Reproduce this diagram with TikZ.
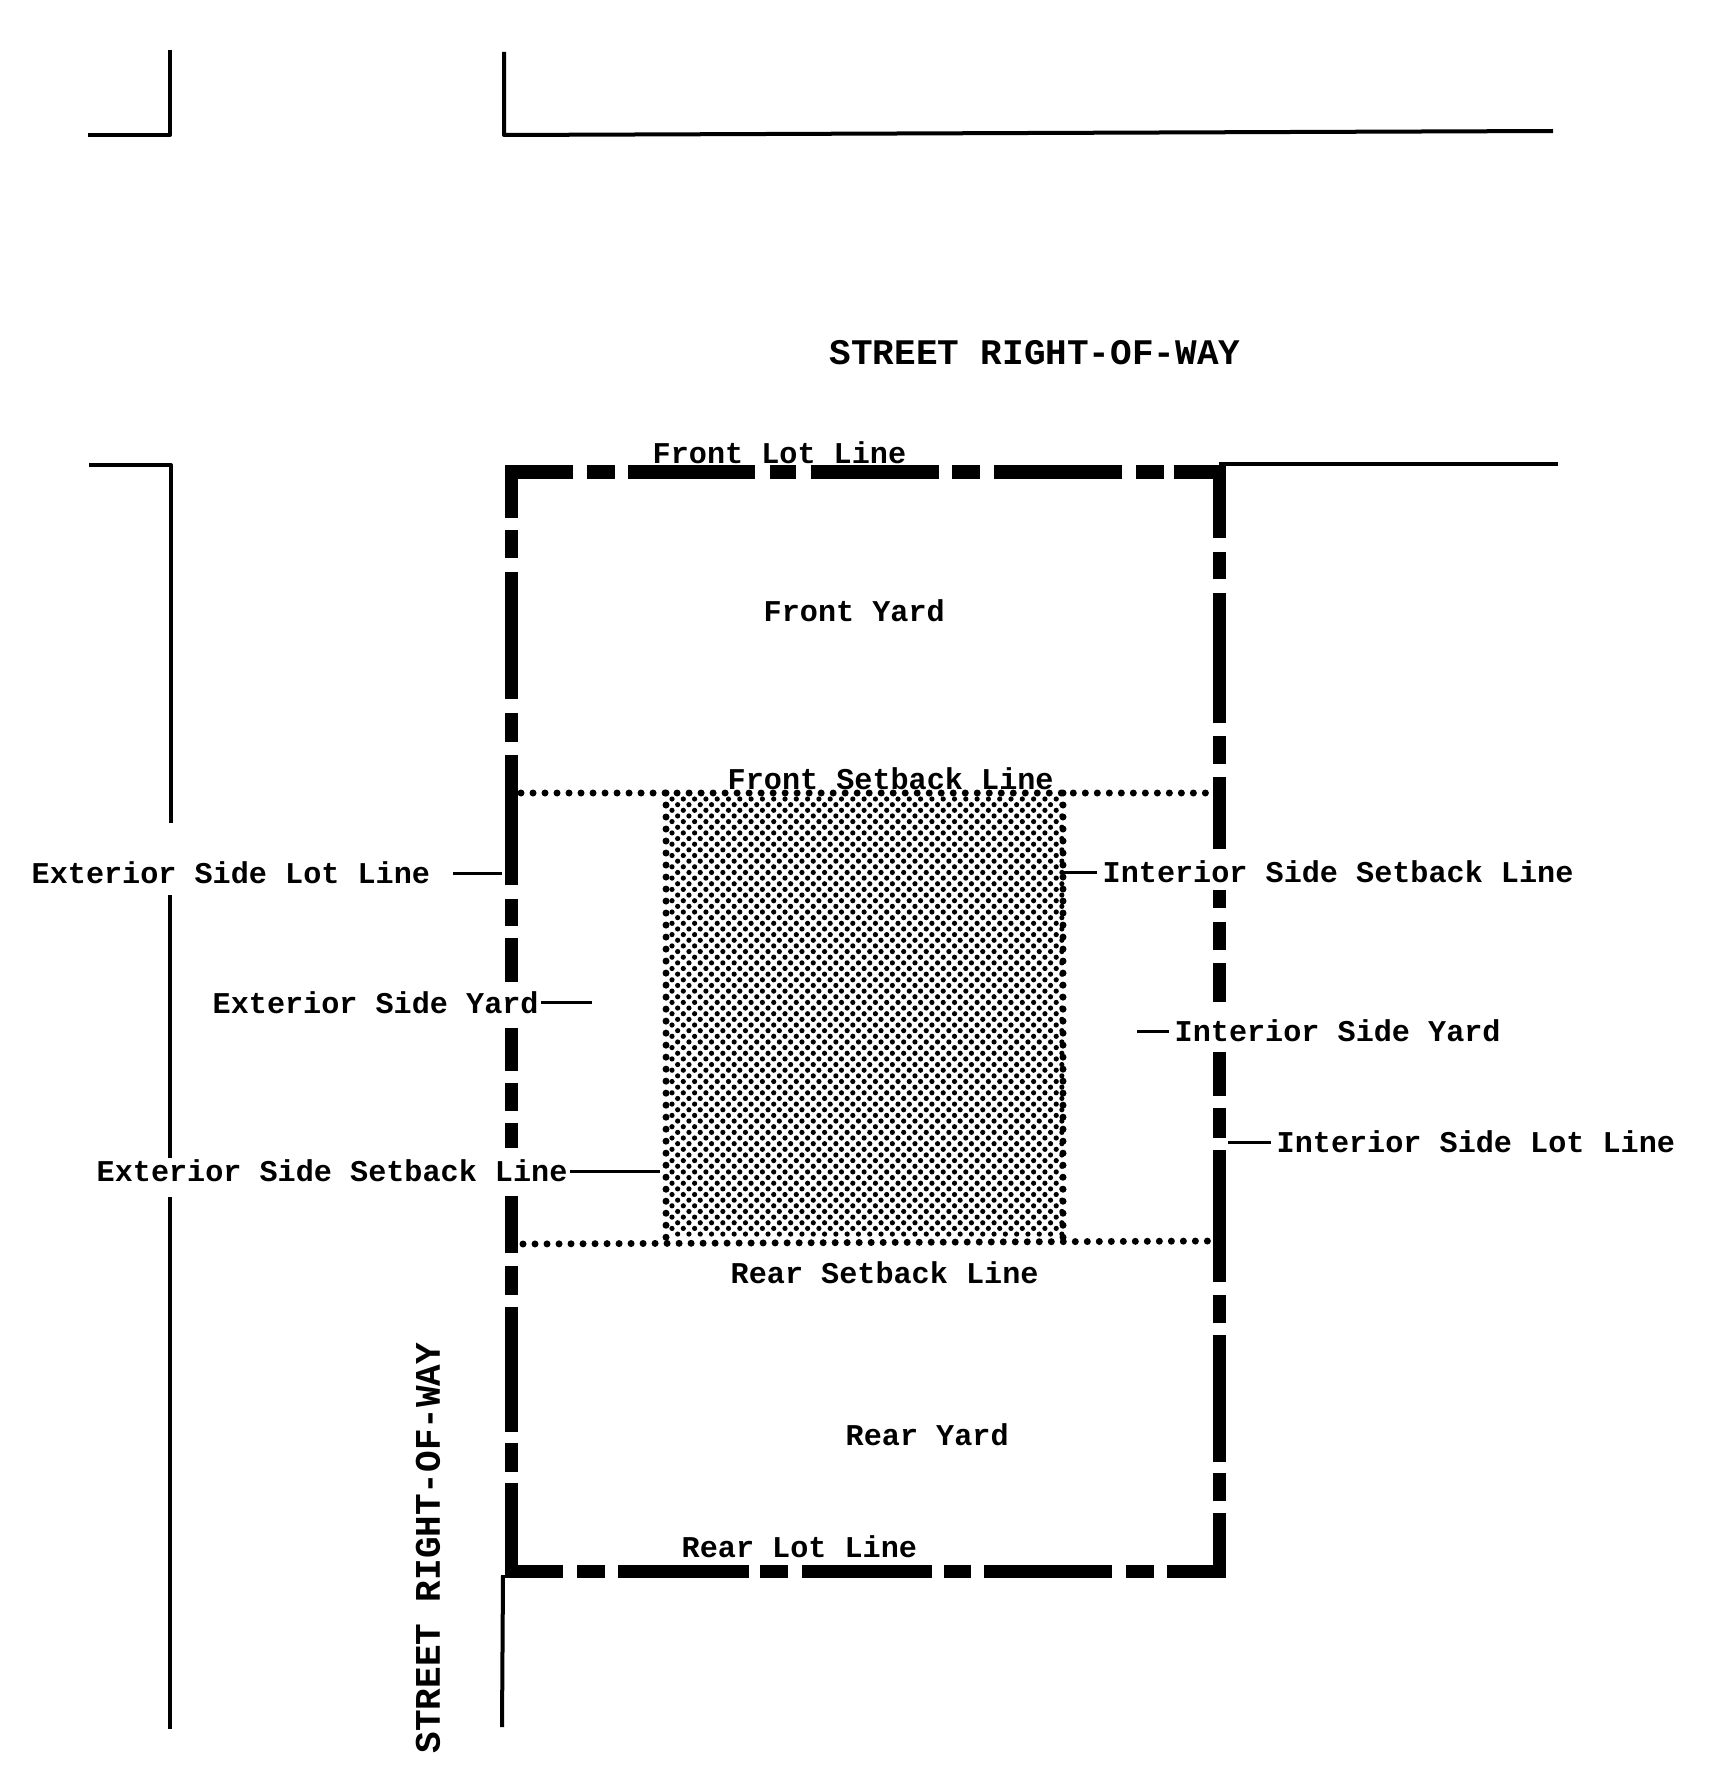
\documentclass[tikz,border=0pt]{standalone}
\usepackage{fontspec}
\setmonofont{Liberation Mono}
\usepackage{tikz}
\tikzset{
  lotline/.style={line width=0.13cm},
  streetline/.style={line width=0.04cm, line join=round},
  leaderline/.style={line width=0.03cm},
  setbackline/.style={line width=0.07cm, line cap=round, dash pattern=on 0pt off 0.12cm},
  lotlabel/.style={inner sep=0pt, anchor=west, font=\ttfamily\bfseries\fontsize{8.58}{10}\selectfont},
  streetlabel/.style={inner sep=0pt, font=\ttfamily\bfseries\fontsize{10.24}{12}\selectfont},
}

\begin{document}
\begin{tikzpicture}[x=0.01cm, y=-0.01cm]
\useasboundingbox (0,0) rectangle (1710,1788);
%%%%% Streets %%%%%
\draw[streetline] (88,135)--(170,135)--(170,50);
\draw[streetline] (504,52)--(504,135)--(1553,131);
\draw[streetline] (89,465)--(171,465)--(171,823);
\draw[streetline] (170,895)--(170,1158);
\draw[streetline] (170,1197)--(170,1729);
\draw[streetline] (1219,464)--(1558,464);
\draw[streetline] (503,1575)--(502,1727);
%%%%% Building %%%%%
\fill \foreach \x in {672,683.3,...,1060} {\foreach \y in {799,810.3,...,1238} {
  (\x,\y) circle (0.026cm) (\x+5.65,\y+5.65) circle (0.026cm)}};
\draw[setbackline] (666,793)--(666,1243);
\draw[setbackline] (1063,793)--(1063,1243);
%%%%% Setback lines %%%%%
\draw[setbackline] (521,793)--(1210,793);
\draw[setbackline] (523,1244)--(1210,1241);
%%%%% Lot lines %%%%%
\foreach \a/\b in {505/573,587/615,628/755,770/796,811/939,952/980,994/1122,1136/1164,1174/1226}{
\draw[lotline] (\a,472)--(\b,472);
}
\foreach \a/\b in {505/563,577/605,618/749,760/788,802/932,944/971,984/1112,1126/1154,1167/1226}{
\draw[lotline] (\a,1571)--(\b,1571);
}
\foreach \a/\b in {466/518,530/558,572/699,713/742,755/885,899/926,938/982,1028/1071,1083/1111,1123/1148,1196/1253,1266/1295,1307/1432,1443/1472,1483/1578}{
\draw[lotline] (511,\a)--(511,\b);
}
\foreach \a/\b in {466/538,552/579,593/723,736/764,777/849,890/908,922/950,963/1002,1052/1096,1108/1138,1150/1282,1295/1323,1335/1462,1473/1501,1513/1578}{
\draw[lotline] (1219,\a)--(1219,\b);
}
%%%%% Labels %%%%%
\node[streetlabel] (streettop) at (1035,353) {STREET RIGHT-OF-WAY};
\node[streetlabel, rotate=90] (streetside) at (428,1548) {STREET RIGHT-OF-WAY};
\node[lotlabel] (frontlot) at (652,453) {Front Lot Line};
\node[lotlabel] (frontyard) at (763,611) {Front Yard};
\node[lotlabel] (frontset) at (727,779) {Front Setback Line};
\node[lotlabel] (extlot) at (31,873) {Exterior Side Lot Line};
\node[lotlabel] (intset) at (1102,872) {Interior Side Setback Line};
\node[lotlabel] (extyard) at (212,1002.5) {Exterior Side Yard};
\node[lotlabel] (intyard) at (1174,1031) {Interior Side Yard};
\node[lotlabel] (intlot) at (1276,1142) {Interior Side Lot Line};
\node[lotlabel] (extset) at (96,1171) {Exterior Side Setback Line};
\node[lotlabel] (rearset) at (730,1273) {Rear Setback Line};
\node[lotlabel] (rearyard) at (845,1435) {Rear Yard};
\node[lotlabel] (rearlot) at (681,1547) {Rear Lot Line};
%%%%% Leaders %%%%%
\coordinate (extlottip) at (502,873);
\coordinate (extyardtip) at (592,1002.5);
\coordinate (extsettip) at (660,1171);
\coordinate (intsettip) at (1060,872);
\coordinate (intyardtip) at (1137,1031);
\coordinate (intlottip) at (1228,1142);
\draw[leaderline, shorten <=0.22cm] (extlot.east)--(extlottip);
\draw[leaderline, shorten <=0.02cm] (extyard.east)--(extyardtip);
\draw[leaderline, shorten <=0.02cm] (extset.east)--(extsettip);
\draw[leaderline, shorten <=0.05cm] (intset.west)--(intsettip);
\draw[leaderline, shorten <=0.05cm] (intyard.west)--(intyardtip);
\draw[leaderline, shorten <=0.05cm] (intlot.west)--(intlottip);
\end{tikzpicture}
\end{document}
